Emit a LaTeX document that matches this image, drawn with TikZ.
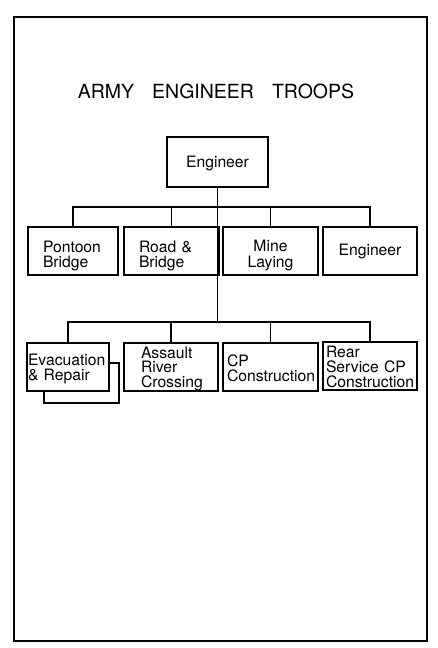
\documentclass[tikz,border=0pt]{standalone}
\usepackage{fontspec}
\setmainfont{TeX Gyre Heros}
\usetikzlibrary{positioning}

\begin{document}
\begin{tikzpicture}[x=1pt, y=-1pt,
    font=\fontsize{15.7}{15.5}\selectfont,
    box/.style={draw, line width=1.1pt, fill=white, minimum height=48pt, inner ysep=0pt},
    lbox/.style={box, align=left},
    cbox/.style={box, align=center, minimum width=95pt},
    wire/.style={line width=1.1pt}]

    \useasboundingbox (0,0) rectangle (438,648);

    % Moldura externa
    \draw[line width=1.4pt] (14,17) rectangle (427,641);

    % Titulo
    \node[anchor=base, font=\fontsize{19.5}{22}\selectfont] (title) at (216,98)
        {ARMY\hspace{18pt}ENGINEER\hspace{18pt}TROOPS};

    % Unidade principal
    \node[cbox, minimum width=101pt, minimum height=50pt, text height=30pt, text depth=20pt] (eng) at (217.5,162) {Engineer};

    % Primeira fila
    \node[lbox, text width=60pt, inner xsep=15pt, text height=25pt, text depth=23pt] (pontoon) at (73,251) {Pontoon\\Bridge};
    \node[lbox, text width=65pt, inner xsep=15pt, text height=25pt, text depth=23pt] (road) at (171.5,251) {Road \&\\Bridge};
    \node[cbox, text height=40pt, text depth=8pt] (mine) at (270.5,251) {Mine\\Laying};
    \node[cbox, minimum width=94pt, text height=28pt, text depth=20pt] (eng2) at (370,251) {Engineer};

    % Segunda fila (caixa de fundo primeiro)
    \node[box, minimum width=75pt, minimum height=40pt] (evacback) at (81.5,383) {};
    \node[lbox, text width=80pt, inner xsep=1pt, text height=22pt, text depth=26pt] (evac) at (68,367) {Evacuation\\\& Repair};
    \node[lbox, text width=60pt, inner xsep=17pt, text height=15pt, text depth=33pt,
        font=\fontsize{15.7}{14.5}\selectfont] (assault) at (171,367) {Assault\\River\\Crossing};
    \node[lbox, text width=87pt, inner xsep=4pt, text height=23pt, text depth=25pt] (cp) at (270.5,367) {CP\\Construction};
    \node[lbox, text width=88pt, inner xsep=3pt, text height=15pt, text depth=33pt,
        font=\fontsize{15.7}{15}\selectfont] (rear) at (370,366) {Rear\\Service CP\\Construction};

    % Barramentos
    \coordinate (bus1) at (eng.south |- 0,207);
    \coordinate (bus2) at (eng.south |- 0,322);

    % Ligacoes da primeira fila
    \draw[wire] (pontoon.north) |- (bus1) -| (eng2.north);
    \draw[wire] (road.north) -- (road.north |- bus1);
    \draw[wire] (mine.north) -- (mine.north |- bus1);

    % Tronco e ligacoes da segunda fila
    \draw[wire] (eng.south) -- (bus2);
    \draw[wire] (evac.north) |- (bus2) -| (rear.north);
    \draw[wire] (assault.north) -- (assault.north |- bus2);
    \draw[wire] (cp.north) -- (cp.north |- bus2);

\end{tikzpicture}
\end{document}
